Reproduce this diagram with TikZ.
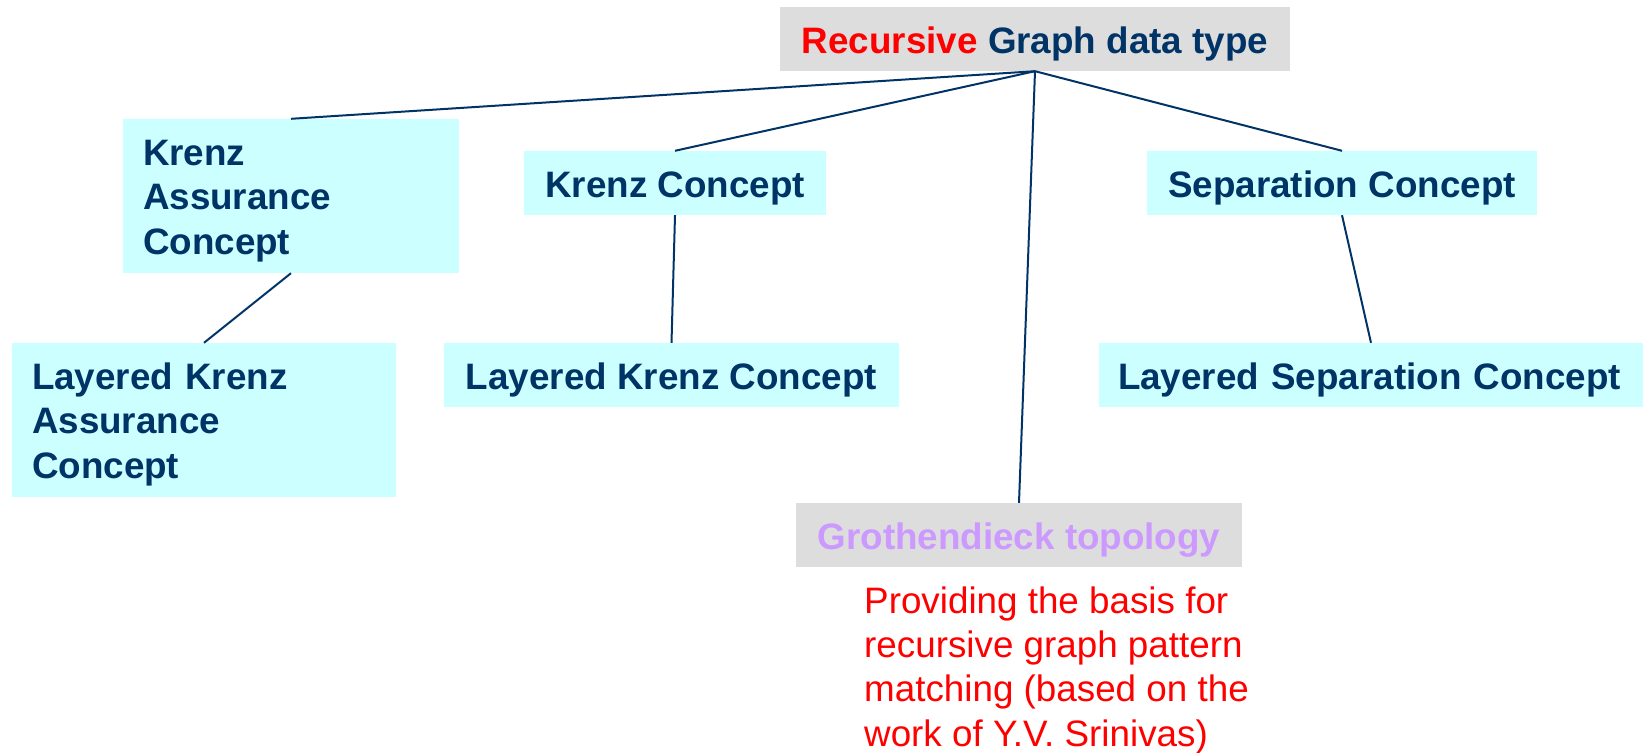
\documentclass[tikz,border=0pt]{standalone}
\usepackage{fontspec}
\setmainfont{Liberation Sans}
\definecolor{navytext}{HTML}{003366}
\definecolor{conceptfill}{HTML}{CCFFFF}
\definecolor{headfill}{HTML}{DDDDDD}
\definecolor{lilactext}{HTML}{CC99FF}
\tikzset{
  concept/.style={fill=conceptfill, text=navytext, inner sep=0pt,
    font=\fontsize{36.8}{44.5}\selectfont\bfseries},
  oneline/.style={text height=46pt, text depth=18pt},
  headbox/.style={concept, fill=headfill},
  branch/.style={draw=navytext, line width=2pt}
}
\newcommand{\topstrut}{\rule{0pt}{46pt}}
\newcommand{\botstrut}{\rule[-19pt]{0pt}{19pt}}
\begin{document}
\begin{tikzpicture}[x=1pt,y=1pt,yscale=-1,xscale=1]
        \useasboundingbox (0,0) rectangle (1643,752);

        % Head Node
        \node [headbox, oneline, minimum width=510pt] (graph) at (1035,39) {\textcolor{red}{Recursive} Graph data type};

        %Shape: Rectangle + Text Node
        \node [concept, minimum width=336pt, minimum height=154pt, text width=296pt, align=left, inner xsep=20pt] (assur) at (291,196) {\topstrut Krenz\\Assurance\\Concept\botstrut};
        %Shape: Rectangle + Text Node
        \node [concept, oneline, minimum width=302pt] (krenz) at (675,183) {Krenz Concept};
        %Shape: Rectangle + Text Node
        \node [concept, oneline, minimum width=390pt] (sep) at (1342,183) {Separation Concept};

        %Shape: Rectangle + Text Node
        \node [concept, minimum width=384pt, minimum height=154pt, text width=344pt, align=left, inner xsep=20pt] (layassur) at (204,420) {\topstrut Layered Krenz\\Assurance\\Concept\botstrut};
        %Shape: Rectangle + Text Node
        \node [concept, oneline, minimum width=455pt] (laykrenz) at (671.5,375) {Layered Krenz Concept};
        %Shape: Rectangle + Text Node
        \node [concept, oneline, minimum width=544pt, text width=506pt, align=left, inner xsep=19pt] (laysep) at (1371,375) {Layered Separation Concept};

        %Shape: Rectangle + Text Node
        \node [headbox, oneline, minimum width=446pt, text=lilactext] (groth) at (1019,535) {Grothendieck topology};
        % Text Node
        \node [anchor=north west, inner sep=0pt, align=left, text=red, font=\fontsize{36.8}{44.3}\selectfont] (basis) at (864,567) {\topstrut Providing the basis for\\recursive graph pattern\\matching (based on the\\work of Y.V. Srinivas)};

        %Straight Lines
        \draw [branch] (graph.south) -- (assur.north) ;
        \draw [branch] (graph.south) -- (krenz.north) ;
        \draw [branch] (graph.south) -- (sep.north) ;
        \draw [branch] (graph.south) -- (groth.north) ;
        %Straight Lines
        \draw [branch] (assur.south) -- (layassur.north) ;
        \draw [branch] (krenz.south) -- (laykrenz.north) ;
        \draw [branch] (sep.south) -- (laysep.north) ;

\end{tikzpicture}
\end{document}
